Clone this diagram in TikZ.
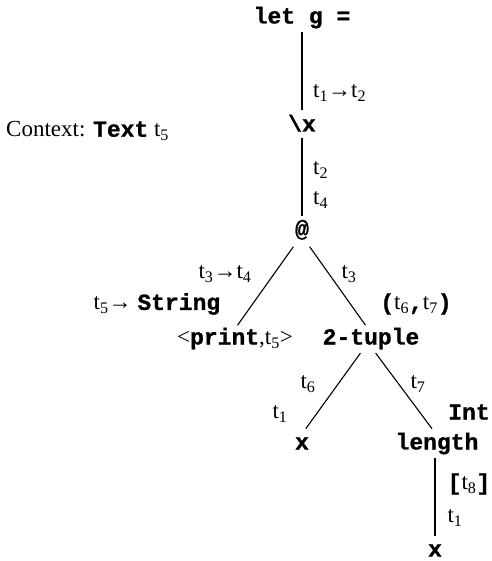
\documentclass[tikz,border=0pt]{standalone}
\usepackage{fontspec}
\setmainfont{Liberation Serif}
\setmonofont{Liberation Mono}[BoldFeatures={FakeBold=1}]
\usetikzlibrary{positioning}

\newcommand{\tv}[1]{t\textsubscript{#1}}
\newcommand{\code}[1]{\texttt{\bfseries #1}}
\newcommand{\arr}{\char"2192}

\begin{document}
\begin{tikzpicture}[x=1pt,y=-1pt,
    every node/.style={font=\fontsize{23}{27}\selectfont, inner sep=2pt},
    leaf/.style={text height=0.65em, text depth=0.15em},
    term/.style={leaf, font=\fontsize{23}{27}\selectfont\ttfamily\bfseries},
    link/.style args={#1/#2}{line width=1.1pt, shorten <=#1, shorten >=#2}
  ]
  \useasboundingbox (0,0) rectangle (491,561);

  % the term tree
  \node[term] (let) at (302,21) {let g =};
  \node[term] (lam) at (302,129) {\textbackslash x};
  \node[term] (app) at (302,234) {@};
  \node[leaf] (prt) at (235,342) {<\code{print},\tv{5}>};
  \node[term] (tup) at (371,342) {2-tuple};
  \node[term] (xa) at (302,447) {x};
  \node[term] (len) at (437,447) {length};
  \node[term] (xb) at (435,554) {x};

  \draw[link=5pt/13pt] (let) -- (lam);
  \draw[link=3pt/12pt] (lam) -- (app);
  \draw[link=8pt/13pt] ([xshift=-4pt]app.south) -- ([xshift=-5pt]prt.north);
  \draw[link=8pt/13pt] ([xshift=3pt]app.south) -- ([xshift=2pt]tup.north);
  \draw[link=6pt/15pt] ([xshift=-7pt]tup.south) -- ([xshift=-5pt]xa.north);
  \draw[link=6pt/15pt] ([xshift=1pt]tup.south) -- ([xshift=4pt]len.north);
  \draw[link=5pt/12pt] (xb |- len.south) -- (xb.north);

  % types on the edges
  \node[anchor=west] (lamty) at (311,93) {\tv{1}\arr\tv{2}};
  \node[anchor=west] (appty) at (311,170) {\tv{2}};
  \node[anchor=west] (lamres) at (311,200) {\tv{4}};
  \node (funty) at (225,274) {\tv{3}\arr\tv{4}};
  \node (argty) at (349,274) {\tv{3}};
  \node (fstty) at (308,384) {\tv{6}};
  \node (sndty) at (418,384) {\tv{7}};
  \node (fstres) at (280,414) {\tv{1}};
  \node (lenarg) at (469,484) {\code{[}\tv{8}\code{]}};
  \node (lenres) at (455,518) {\tv{1}};

  % types attached to the leaves
  \node (prtty) at (157,304) {\tv{5}\arr\ \code{String}};
  \node (tupty) at (416,304) {\code{(}\tv{6}\code{,}\tv{7}\code{)}};
  \node (lenty) at (469,412) {\code{Int}};
  \node[anchor=west] (ctx) at (4,131) {Context: \code{Text} \tv{5}};
\end{tikzpicture}
\end{document}
